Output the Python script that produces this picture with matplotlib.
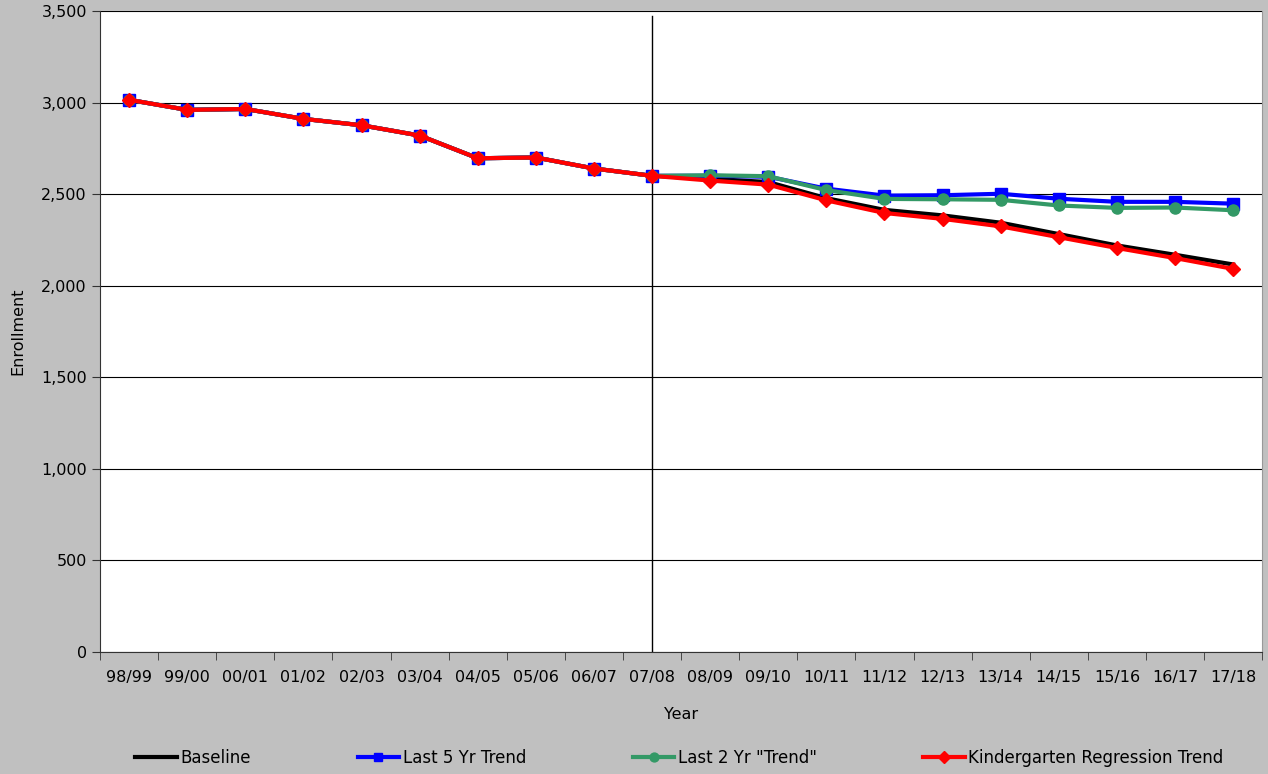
import numpy as np
import matplotlib.pyplot as plt
from matplotlib.ticker import FuncFormatter, MultipleLocator

plt.rcParams['font.family'] = ['DejaVu Sans']
plt.rcParams['font.size'] = 11.5

# data
years = ['98/99', '99/00', '00/01', '01/02', '02/03', '03/04', '04/05', '05/06',
         '06/07', '07/08', '08/09', '09/10', '10/11', '11/12', '12/13', '13/14',
         '14/15', '15/16', '16/17', '17/18']
history = [3015, 2960, 2965, 2911, 2876, 2820, 2696, 2700, 2640, 2600]
baseline = history + [2584, 2566, 2478, 2414, 2384, 2344, 2282, 2220, 2169, 2116]
last5 = history + [2600, 2595, 2530, 2492, 2494, 2502, 2475, 2458, 2458, 2448]
last2 = history + [2603, 2598, 2522, 2474, 2472, 2469, 2438, 2425, 2427, 2412]
kinder = history + [2574, 2552, 2466, 2397, 2365, 2324, 2265, 2206, 2151, 2092]

x = np.arange(len(years))

fig = plt.figure(figsize=(12.68, 7.74), dpi=100, facecolor='#c0c0c0')
ax = fig.add_axes([0.0789, 0.1576, 0.9165, 0.8282])
ax.set_facecolor('white')

ax.plot(x, baseline, color='black', lw=3, label='Baseline', zorder=3)
ax.plot(x, last5, color='#0000ff', lw=3, marker='s', ms=8, label='Last 5 Yr Trend', zorder=4)
ax.plot(x, last2, color='#339966', lw=3, marker='o', ms=8, label='Last 2 Yr "Trend"', zorder=5)
ax.plot(x, kinder, color='#ff0000', lw=3, marker='D', ms=7.5, label='Kindergarten Regression Trend', zorder=6)

# divider at the last actual year
ax.plot([9, 9], [0, 3470], color='black', lw=1, zorder=2)

ax.set_xlim(-0.5, len(years) - 0.5)
ax.set_ylim(0, 3500)
ax.yaxis.set_major_locator(MultipleLocator(500))
ax.yaxis.set_major_formatter(FuncFormatter(lambda v, p: f'{int(v):,}'))
ax.grid(axis='y', color='black', lw=0.8, zorder=1)

ax.set_xticks(x)
ax.set_xticklabels(years)
ax.set_xticks(np.arange(-0.5, len(years)), minor=True)
ax.tick_params(axis='x', which='major', length=0, pad=13)
ax.tick_params(axis='x', which='minor', length=6, color='#333333')
ax.tick_params(axis='y', length=6, color='#333333')

ax.spines['top'].set_visible(False)
ax.spines['right'].set_color('#999999')
ax.spines['left'].set_color('#333333')
ax.spines['bottom'].set_color('#333333')

ax.set_xlabel('Year', labelpad=16)
ax.set_ylabel('Enrollment', labelpad=11)

fig.legend(loc='lower left', bbox_to_anchor=(0.095, -0.01), ncol=4, frameon=False,
           fontsize=12, handlelength=2.5, handletextpad=0.2, columnspacing=6.4,
           markerscale=0.8)

fig.savefig('out.png', dpi=100, facecolor=fig.get_facecolor())
